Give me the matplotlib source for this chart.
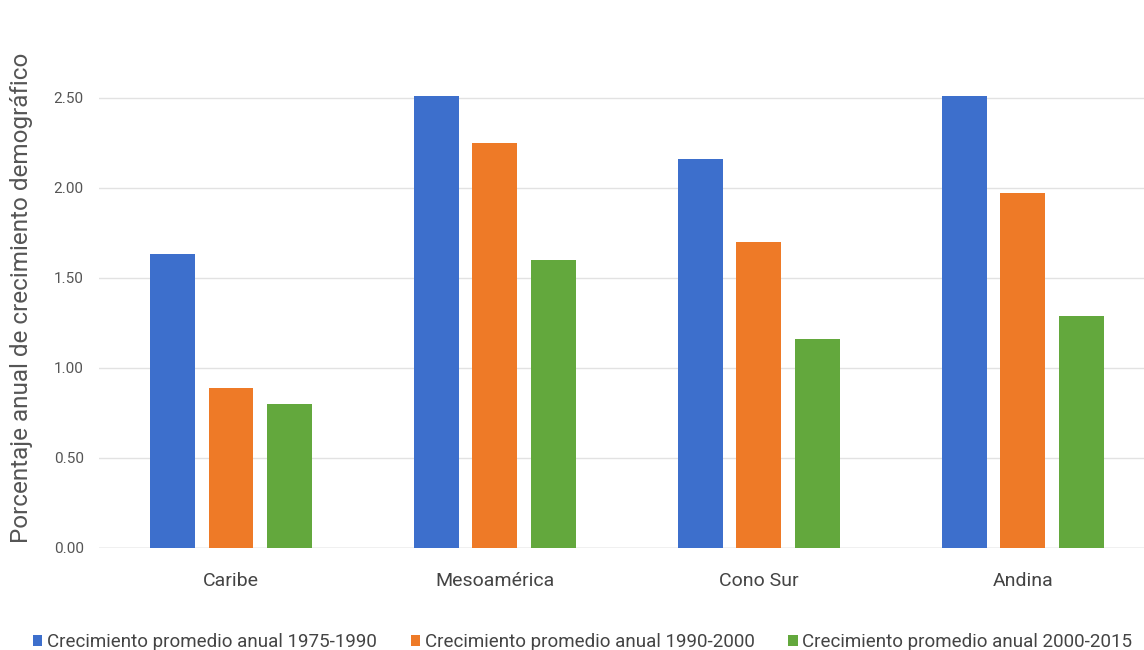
import numpy as np
import matplotlib.pyplot as plt

plt.rcParams['font.family'] = ['Roboto', 'DejaVu Sans']

regiones = ['Caribe', 'Mesoamérica', 'Cono Sur', 'Andina']
series = ['Crecimiento promedio anual 1975-1990',
          'Crecimiento promedio anual 1990-2000',
          'Crecimiento promedio anual 2000-2015']
c_1975_1990 = [1.63, 2.51, 2.16, 2.51]
c_1990_2000 = [0.89, 2.25, 1.70, 1.97]
c_2000_2015 = [0.80, 1.60, 1.16, 1.29]
ticks_y = [0.0, 0.5, 1.0, 1.5, 2.0, 2.5]
colores = ['#3d6fcc', '#ee7a27', '#63a83d']

fig = plt.figure(figsize=(11.44, 6.5), dpi=100)
ax = fig.add_axes([0.0865, 0.157, 0.923, 0.831])

x = np.arange(len(regiones))
ancho = 0.17
paso = 0.222
for i, (vals, nombre, col) in enumerate(zip([c_1975_1990, c_1990_2000, c_2000_2015], series, colores)):
    ax.bar(x + (i - 1) * paso, vals, ancho, color=col, label=nombre, zorder=3)

ax.set_xlim(-0.5, 3.5)
ax.set_ylim(0, 3.0)
ax.set_yticks(ticks_y)
ax.set_yticklabels(['%.2f' % v for v in ticks_y])
ax.set_xticks(x)
ax.set_xticklabels(regiones)
ax.tick_params(axis='y', length=0, pad=11, labelsize=11, labelcolor='#555555')
ax.tick_params(axis='x', length=0, pad=17, labelsize=14, labelcolor='#444444')
ax.grid(axis='y', color='#e2e2e2', linewidth=1, zorder=0)
for s in ax.spines.values():
    s.set_visible(False)
ax.axhline(0, color='#d0d0d0', linewidth=1, zorder=2)

fig.text(22 / 1144, 1 - 298 / 650, 'Porcentaje anual de crecimiento demográfico',
         rotation=90, ha='center', va='center', fontsize=17.5, color='#555555')

fig.legend(loc='center left', bbox_to_anchor=(0.014, 0.012), ncol=3, frameon=False,
           fontsize=13.5, handlelength=0.5, handleheight=0.5, handletextpad=0.25,
           columnspacing=1.8, labelcolor='#444444')

fig.savefig('out.png', dpi=100)
